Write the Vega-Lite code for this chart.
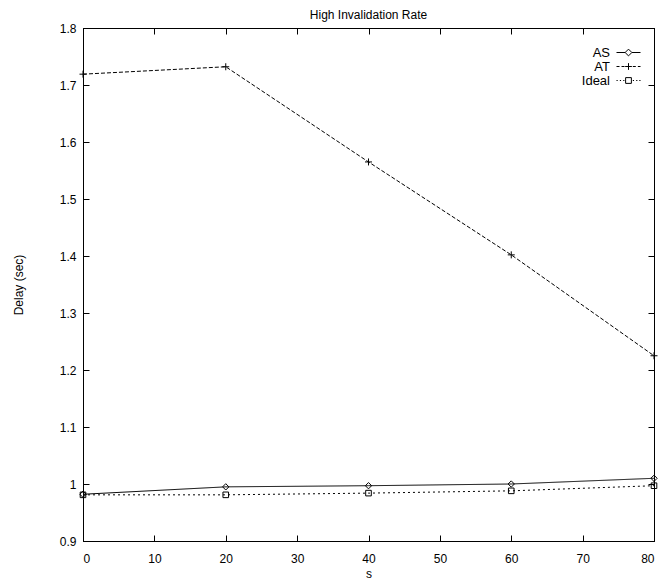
{
  "$schema": "https://vega.github.io/schema/vega-lite/v6.json",
  "width": 571,
  "height": 513,
  "autosize": "none",
  "padding": {"left": 83, "top": 28, "right": 9, "bottom": 41},
  "background": "white",
  "title": {"text": "High Invalidation Rate", "fontSize": 12, "font": "Liberation Sans", "fontWeight": "normal", "color": "black", "offset": 0, "anchor": "middle"},
  "config": {
    "view": {"stroke": "black", "strokeWidth": 1},
    "font": "Liberation Sans",
    "axis": {"grid": false, "domainColor": "black", "tickColor": "black", "labelColor": "black", "titleColor": "black", "labelFont": "Liberation Sans", "titleFont": "Liberation Sans", "labelFontSize": 12, "titleFontSize": 12, "titleFontWeight": "normal", "tickSize": -6, "domainWidth": 1, "tickWidth": 1}
  },
  "data": {"values": [
    {"s": 0, "series": "AS", "delay": 0.982},
    {"s": 20, "series": "AS", "delay": 0.995},
    {"s": 40, "series": "AS", "delay": 0.997},
    {"s": 60, "series": "AS", "delay": 1.0},
    {"s": 80, "series": "AS", "delay": 1.01},
    {"s": 0, "series": "AT", "delay": 1.719},
    {"s": 20, "series": "AT", "delay": 1.732},
    {"s": 40, "series": "AT", "delay": 1.565},
    {"s": 60, "series": "AT", "delay": 1.402},
    {"s": 80, "series": "AT", "delay": 1.225},
    {"s": 0, "series": "Ideal", "delay": 0.981},
    {"s": 20, "series": "Ideal", "delay": 0.981},
    {"s": 40, "series": "Ideal", "delay": 0.984},
    {"s": 60, "series": "Ideal", "delay": 0.988},
    {"s": 80, "series": "Ideal", "delay": 0.997}
  ]},
  "layer": [
    {
      "mark": {"type": "line", "color": "black", "strokeWidth": 1},
      "encoding": {
        "x": {"field": "s", "type": "quantitative", "scale": {"domain": [0, 80], "nice": false}, "axis": {"values": [0,10,20,30,40,50,60,70,80], "title": "s", "labelPadding": 18, "titlePadding": 4}},
        "y": {"field": "delay", "type": "quantitative", "scale": {"domain": [0.9, 1.8], "nice": false, "zero": false}, "axis": {"values": [0.9,1.0,1.1,1.2,1.3,1.4,1.5,1.6,1.7,1.8], "format": ".2~f", "title": "Delay (sec)", "labelPadding": 13, "titlePadding": 34}},
        "strokeDash": {"field": "series", "type": "nominal", "scale": {"domain": ["AS", "AT", "Ideal"], "range": [[1, 0], [4, 2], [2, 3]]}, "legend": null}
      }
    },
    {
      "mark": {"type": "point", "filled": false, "stroke": "black", "strokeWidth": 1, "size": 49, "opacity": 1},
      "encoding": {
        "x": {"field": "s", "type": "quantitative", "axis": {"orient": "top", "values": [0,10,20,30,40,50,60,70,80], "labels": false, "title": null}},
        "y": {"field": "delay", "type": "quantitative", "axis": {"orient": "right", "values": [0.9,1.0,1.1,1.2,1.3,1.4,1.5,1.6,1.7,1.8], "labels": false, "title": null}},
        "shape": {"field": "series", "type": "nominal", "scale": {"domain": ["AS", "AT", "Ideal"], "range": ["M0,-0.9L0.9,0L0,0.9L-0.9,0Z", "M-1,0H1M0,-1V1", "M-0.8,-0.8H0.8V0.8H-0.8Z"]}, "legend": null}
      }
    },
    {
      "mark": {"type": "point", "filled": false, "stroke": "black", "strokeWidth": 1, "opacity": 0},
      "encoding": {
        "x": {"field": "s", "type": "quantitative", "axis": null},
        "y": {"field": "delay", "type": "quantitative", "axis": null},
        "shape": {"field": "series", "type": "nominal", "scale": {"domain": ["AS", "AT", "Ideal"], "range": [
          "M-2,0H-0.56M0.56,0H2M0,-0.56L0.56,0L0,0.56L-0.56,0Z",
          "M-2,0H-1.5M-1.16,0H-0.66M-0.56,0H0.56M0,-0.56V0.56M0.72,0H1.22M1.56,0H2",
          "M-2,0H-1.8M-1.44,0H-1.24M-0.88,0H-0.68M-0.48,-0.48H0.48V0.48H-0.48ZM0.72,0H0.92M1.28,0H1.48M1.8,0H2"
        ]}, "legend": {"title": " ", "titleFontSize": 1, "titlePadding": 6, "orient": "top-right", "offset": 11, "symbolSize": 144, "symbolOpacity": 1, "symbolStrokeColor": "black", "symbolFillColor": "transparent", "symbolStrokeWidth": 1, "labelAlign": "right", "labelOffset": -25, "labelFontSize": 13, "labelFont": "Liberation Sans", "labelColor": "black", "rowPadding": 0}}
      }
    }
  ],
  "resolve": {"scale": {"shape": "independent"}, "axis": {"x": "independent", "y": "independent"}}
}
